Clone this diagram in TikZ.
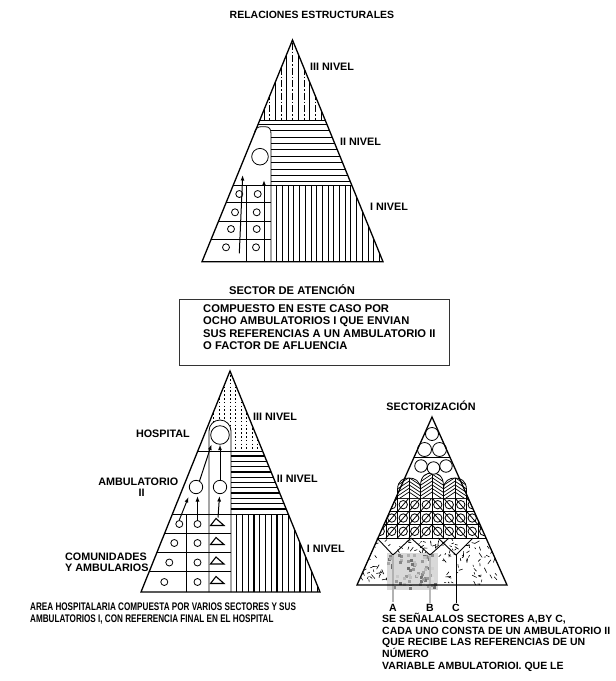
\documentclass[tikz,border=0pt]{standalone}
\usepackage{fontspec}
\setmainfont{Liberation Sans}
\usepackage{graphicx}
\usetikzlibrary{arrows.meta}
\newcommand\labfont{\fontsize{10.8}{12}\selectfont\bfseries}
\newcommand\boxfont{\fontsize{11.2}{12.5}\selectfont\bfseries}
\newcommand\txtfont{\fontsize{10.5}{11.8}\selectfont\bfseries}
\newcommand\btfont{\fontsize{11}{12}\selectfont\bfseries}
\begin{document}
\begin{tikzpicture}[x=1pt,y=-1pt,
  lab/.style={font=\labfont,inner sep=0pt},
  bx/.style={font=\boxfont,inner sep=0pt},
  tx/.style={font=\txtfont,inner sep=0pt},
  bt/.style={font=\btfont,inner sep=0pt},
  tri/.style={line width=1.3pt,line join=miter},
  hat/.style={line width=0.8pt},
  thk/.style={line width=1.3pt},
  thin/.style={line width=0.8pt},
  arr/.style={line width=1pt,-{Latex[length=5.5pt,width=4pt]}}]
\fill[white] (0,0) rectangle (616,681);
\useasboundingbox (0,0) rectangle (616,681);

% ---------- title
\node[tx,anchor=base] (title) at (312,18.8) {RELACIONES ESTRUCTURALES};

% ---------- top pyramid
\coordinate (TA) at (292.5,40);
\coordinate (TL) at (202,261.7);
\coordinate (TR) at (383,261.7);
\begin{scope}
 \clip (TA)--(TL)--(TR)--cycle;
 \clip (190,30) rectangle (400,120);
 \foreach \x in {264,275.4,...,330} \draw[hat] (\x,30)--(\x,120);
 \foreach \x in {269.7,281.1,...,330} \draw[hat,dash pattern=on 7pt off 2pt on 1.5pt off 2pt] (\x,30)--(\x,120);
\end{scope}
\begin{scope}
 \clip (TA)--(TL)--(TR)--cycle;
 \draw[hat] (190,124.3)--(400,124.3);
 \clip (271,120) rectangle (400,185.7);
 \foreach \y in {130.5,136.9,...,183} \draw[hat] (265,\y)--(400,\y);
\end{scope}
\begin{scope}
 \clip (TA)--(TL)--(TR)--cycle;
 \foreach \x in {276.7,282.4,...,386} \draw[hat] (\x,185.7)--(\x,261.7);
\end{scope}
\draw[thin] (254.1,134) .. controls (255.5,127.5) and (258,126.7) .. (262,126.7) -- (265,126.7) .. controls (269.5,126.7) and (271,129) .. (271,134) -- (271,261.7);
\draw[thin] (259.8,120)--(325.2,120);
\draw[thin] (233,185.7)--(352,185.7);
\draw[thin] (226.1,202.7)--(271,202.7) (218.6,221)--(271,221) (211.3,239)--(271,239);
\draw[thin] (246.7,185.7)--(246.7,261.7);
\foreach \a/\b in {239.3/194,257.7/194,235/212.3,256.7/212.3,231/229,256.7/229,226/247.3,256/247.3}
  \draw[thin] (\a,\b) circle[radius=3.5pt];
\node[circle,draw,thin,minimum size=16.6pt,inner sep=0pt] (tc) at (260,156.7) {};
\coordinate (ta1) at (239.3,253.3); \coordinate (tb1) at (242.7,175);
\coordinate (ta2) at (264,261.7);   \coordinate (tb2) at (264,180);
\draw[arr] (ta1)--(tb1);
\draw[arr] (ta2)--(tb2);
\draw[tri] (TA)--(TL)--(TR)--cycle;
\node[lab,anchor=base west] (t3) at (310,70.6) {III NIVEL};
\node[lab,anchor=base west] (t2) at (340,145.6) {II NIVEL};
\node[lab,anchor=base west] (t1) at (370,210.6) {I NIVEL};

% ---------- box
\node[bx,anchor=base] (sa) at (292,294) {SECTOR DE ATENCIÓN};
\draw[line width=0.8pt,black!80] (179,299) rectangle (449,365);
\node[bx,anchor=base west] (b1) at (203,312.3) {COMPUESTO EN ESTE CASO POR};
\node[bx,anchor=base west] (b2) at (203,324.7) {OCHO AMBULATORIOS I QUE ENVIAN};
\node[bx,anchor=base west] (b3) at (203,337.3) {SUS REFERENCIAS A UN AMBULATORIO II};
\node[bx,anchor=base west] (b4) at (203,349.7) {O FACTOR DE AFLUENCIA};

% ---------- bottom-left pyramid
\coordinate (LA) at (230,371);
\coordinate (LL) at (141,592);
\coordinate (LR) at (320,592);
\begin{scope}
 \clip (LA)--(LL)--(LR)--cycle;
 \clip (150,360) rectangle (330,451);
 \foreach \x in {213.5,219,...,262} \draw[line width=1pt,dash pattern=on 1.6pt off 2.2pt] (\x,360)--(\x,451);
\end{scope}
\begin{scope}
 \clip (LA)--(LL)--(LR)--cycle;
 \clip (231,451) rectangle (330,514.3);
 \foreach \y in {456,461.3,...,512} \draw[thk] (225,\y)--(330,\y);
\end{scope}
\begin{scope}
 \clip (LA)--(LL)--(LR)--cycle;
 \foreach \x in {236.7,242.45,...,322} \draw[thk] (\x,514.3)--(\x,592);
\end{scope}
\fill[white] (209,451)--(209,431) .. controls (209,424.9) and (213.9,420) .. (220,420) .. controls (226.1,420) and (231,424.9) .. (231,431)--(231,451)--cycle;
\draw[thin] (209,592)--(209,431) .. controls (209,424.9) and (213.9,420) .. (220,420) .. controls (226.1,420) and (231,424.9) .. (231,431)--(231,592);
\draw[thin] (197.6,451)--(262.4,451);
\draw[thin] (172,514.3)--(288,514.3);
\draw[thin] (164.2,533.3)--(231,533.3) (156.6,552.3)--(231,552.3) (148.7,571.7)--(231,571.7);
\draw[thin] (186.7,514.3)--(186.7,592);
\foreach \b in {524,543,562.5,582} \draw[thin] (197.5,\b) circle[radius=3.5pt];
\foreach \a/\b in {179.3/524,174.3/543,169.3/562.5,164.3/582} \draw[thin] (\a,\b) circle[radius=3.5pt];
\foreach \b in {524,543,562.5,582} \draw[line width=1.1pt,line join=miter] (210.5,\b+1.5)--(224,\b+1.5)--(216,\b-5.5)--cycle;
\node[circle,draw,thin,minimum size=18.6pt,inner sep=0pt] (hosp) at (220,435) {};
\node[circle,draw,thin,minimum size=13.4pt,inner sep=0pt] (am1) at (196,487) {};
\node[circle,draw,thin,minimum size=13.4pt,inner sep=0pt] (am2) at (220,487) {};
\coordinate (la1) at (179.3,520); \coordinate (lb1) at (188.5,497);
\coordinate (la2) at (197.5,520); \coordinate (lb2) at (197.5,496);
\coordinate (la3) at (218,517.5); \coordinate (lb3) at (219.5,496);
\draw[arr] (la1)--(lb1);
\draw[arr] (la2)--(lb2);
\draw[arr] (la3)--(lb3);
\draw[arr] (am1.60)--(211.5,444.5);
\draw[arr] (am2.north)--(hosp.south);
\draw[tri] (LA)--(LL)--(LR)--cycle;
\node[lab,anchor=base east] (hl) at (190,437.2) {HOSPITAL};
\node[lab,anchor=base] (al1) at (138.3,485.6) {AMBULATORIO};
\node[lab,anchor=base] (al2) at (141.7,496.6) {II};
\node[lab,anchor=base west] (cl1) at (65,560.6) {COMUNIDADES};
\node[lab,anchor=base west] (cl2) at (65,571.2) {Y AMBULARIOS};
\node[lab,anchor=base west] (l3) at (253,420.6) {III NIVEL};
\node[lab,anchor=base west] (l2) at (276.7,482.2) {II NIVEL};
\node[lab,anchor=base west] (l1) at (306.7,552.2) {I NIVEL};

% ---------- right pyramid (sectorizacion)
\coordinate (RA) at (432,417);
\coordinate (RL) at (357,585);
\coordinate (RR) at (507,585);
\node[lab,anchor=base] (sl) at (431,410.6) {SECTORIZACIÓN};
\begin{scope}
 \clip (378,538)--(486,538)--(507,585)--(357,585)--cycle;
 \pgfmathsetseed{7}
 \foreach \i in {1,...,170} {
   \pgfmathsetmacro\px{358+148*rnd}
   \pgfmathsetmacro\py{540+44*rnd}
   \pgfmathsetmacro\ang{360*rnd}
   \pgfmathsetmacro\len{1.5+4*rnd}
   \draw[line width=0.6pt] (\px,\py)--++(\ang:\len);
 }
\end{scope}
\fill[gray!30] (387,553) rectangle (438,590);
\begin{scope}
 \pgfmathsetseed{3}
 \foreach \i in {1,...,70} {
   \pgfmathsetmacro\px{387+48*rnd}
   \pgfmathsetmacro\py{553+34*rnd}
   \pgfmathsetmacro\g{int(10+50*rnd)}
   \fill[black!\g] (\px,\py) rectangle ++(3,3);
 }
\end{scope}
\draw[line width=0.9pt] (377,538)--(393,555)--(411,538);
\draw[line width=0.9pt] (411,538)--(430,555)--(449,538);
\draw[line width=0.9pt] (438,538)--(456,555)--(473,538);
\coordinate (ya) at (393,555); \coordinate (yb) at (430,555); \coordinate (yc) at (456,555);
\coordinate (ea) at (393,602); \coordinate (eb) at (430,603); \coordinate (ec) at (456,603);
\draw[line width=2.5pt,gray!60] (ya)--(ea);
\draw[line width=2.5pt,gray!55] (yb)--(eb);
\draw[line width=0.9pt] (yc)--(ec);
\draw[thin] (414,457.3)--(450,457.3);
\draw[thin] (378,538)--(486,538);
\node[circle,draw,thin,minimum size=13pt,inner sep=0pt] (rc1) at (432,434) {};
\node[circle,draw,thin,minimum size=14pt,inner sep=0pt] (rc2) at (424.5,449.5) {};
\node[circle,draw,thin,minimum size=14pt,inner sep=0pt] (rc3) at (439.5,449.5) {};
\begin{scope}
 \clip (RA)--(RL)--(RR)--cycle;
 \clip (360,498) rectangle (500,538);
 \foreach \xo in {374.5,386,397.5,409,420.5} \foreach \yo in {498,511.33,524.67} {
   \draw[thin] (\xo,\yo) rectangle ++(11.5,13.33);
   \draw[thin] (\xo,\yo+13.33)--++(11.5,-13.33);
   \draw[thin] (\xo+5.75,\yo+6.67) circle[radius=4.2pt];
 }
 \foreach \xo in {432,443.5,455,466.5,478} \foreach \yo in {498,511.33,524.67} {
   \draw[thin] (\xo,\yo) rectangle ++(11.5,13.33);
   \draw[thin] (\xo,\yo)--++(11.5,13.33);
   \draw[thin] (\xo+5.75,\yo+6.67) circle[radius=4.2pt];
 }
\end{scope}
\foreach \c/\t/\s in {409/478/490,455/478/490,432/473/486} {
  \fill[white] (\c-11.5,498)--(\c-11.5,\s) .. controls (\c-11.5,\t+2) and (\c-5,\t) .. (\c,\t) .. controls (\c+5,\t) and (\c+11.5,\t+2) .. (\c+11.5,\s)--(\c+11.5,498)--cycle;
  \begin{scope}
   \clip (\c-11.5,498)--(\c-11.5,\s) .. controls (\c-11.5,\t+2) and (\c-5,\t) .. (\c,\t) .. controls (\c+5,\t) and (\c+11.5,\t+2) .. (\c+11.5,\s)--(\c+11.5,498)--cycle;
   \foreach \k in {0,...,9} {
     \draw[line width=0.7pt] (\c-12,500-3.6*\k)--(\c,492-3.6*\k);
     \draw[line width=0.7pt] (\c+12,500-3.6*\k)--(\c,492-3.6*\k);
   }
  \end{scope}
  \draw[thin] (\c-11.5,538)--(\c-11.5,\s) .. controls (\c-11.5,\t+2) and (\c-5,\t) .. (\c,\t) .. controls (\c+5,\t) and (\c+11.5,\t+2) .. (\c+11.5,\s)--(\c+11.5,538);
  \draw[thin] (\c,\t)--(\c,538);
}
\node[circle,draw,thin,fill=white,minimum size=12.5pt,inner sep=0pt] (rc4) at (421,466) {};
\node[circle,draw,thin,fill=white,minimum size=12.5pt,inner sep=0pt] (rc6) at (446,466) {};
\node[circle,draw,thin,fill=white,minimum size=12.5pt,inner sep=0pt] (rc5) at (433.5,468) {};
\draw[tri] (RA)--(RL)--(RR)--cycle;
\node[tx,anchor=base] (la) at (393,611) {A};
\node[tx,anchor=base] (lbb) at (430,611) {B};
\node[tx,anchor=base] (lc) at (456,611) {C};

% ---------- bottom texts
\node[bt,anchor=base west] (bl1) at (30,610.5) {\scalebox{0.74}[1]{AREA HOSPITALARIA COMPUESTA POR VARIOS SECTORES Y SUS}};
\node[bt,anchor=base west] (bl2) at (30,622.5) {\scalebox{0.74}[1]{AMBULATORIOS I, CON REFERENCIA FINAL EN EL HOSPITAL}};
\node[tx,anchor=base west] (r1) at (382,622.2) {SE SEÑALALOS SECTORES A,BY C,};
\node[tx,anchor=base west] (r2) at (382,634) {CADA UNO CONSTA DE UN AMBULATORIO II};
\node[tx,anchor=base west] (r3) at (382,645.8) {QUE RECIBE LAS REFERENCIAS DE UN};
\node[tx,anchor=base west] (r4) at (382,657.6) {NÚMERO};
\node[tx,anchor=base west] (r5) at (382,669.4) {VARIABLE AMBULATORIOI. QUE LE};
\end{tikzpicture}
\end{document}
